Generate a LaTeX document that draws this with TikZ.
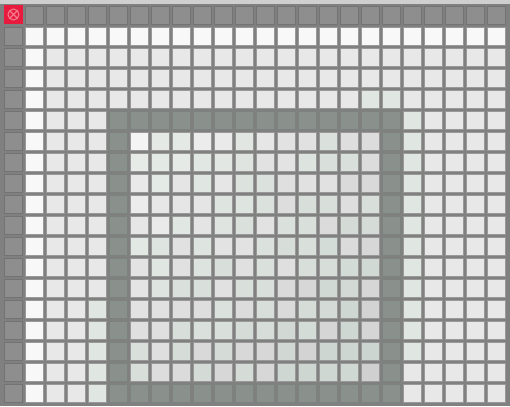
\documentclass[tikz,border=0pt]{standalone}
\usepackage{xcolor}
\definecolor{topband}{HTML}{CFCFCF}
\definecolor{gridline}{HTML}{808080}
\definecolor{cellrim}{HTML}{999999}
\definecolor{darkcell}{HTML}{8E8E8E}
\definecolor{framecell}{HTML}{8A908C}
\definecolor{whitecell}{HTML}{F8F8F8}
\definecolor{lightcell}{HTML}{E8E8E8}
\definecolor{tintcell}{HTML}{E0E6E2}
\definecolor{innerHi}{HTML}{EDEDED}
\definecolor{innerLo}{HTML}{D0D0D0}
\definecolor{greenHi}{HTML}{E6EBE7}
\definecolor{greenLo}{HTML}{CDD5D0}
\definecolor{markred}{HTML}{E81A3E}
\definecolor{markpink}{HTML}{F27A8C}
\tikzset{
  tilebox/.style={draw=cellrim, line width=0.7pt},
  darkbox/.style={tilebox, fill=darkcell, draw=gridline!90!black},
  framebox/.style={tilebox, fill=framecell, draw=framecell!90!black},
  markline/.style={draw=markpink, line width=1.1pt}
}
% one grid cell: column #2, row #3
\newcommand{\tile}[3][]{%
  \path[tilebox,#1] (3+21*#2+1.4, 5+21*#3+1.4) rectangle +(18.2,18.2);}
\begin{document}
\begin{tikzpicture}[x=1pt,y=-1pt]
  \useasboundingbox (0,0) rectangle (510,406);
  \fill[topband] (0,0) rectangle (510,4);
  \fill[gridline] (0,4) rectangle (510,406);

  % plain cells
  \foreach \c in {1,...,23}{\foreach \r in {2,...,18}{\tile[fill=lightcell]{\c}{\r}}}
  \foreach \c in {1,...,23}{\tile[fill=whitecell]{\c}{1}}
  \foreach \r in {2,...,18}{\tile[fill=whitecell]{1}{\r}}

  % header row and column
  \foreach \c in {1,...,23}{\tile[darkbox]{\c}{0}}
  \foreach \r in {1,...,18}{\tile[darkbox]{0}{\r}}

  % tinted cells round the frame
  \foreach \r in {5,...,16}{\tile[fill=tintcell]{19}{\r}}
  \foreach \c in {17,18}{\tile[fill=tintcell]{\c}{4}}
  \foreach \r in {14,...,18}{\tile[fill=tintcell]{4}{\r}}

  % inner frame
  \foreach \c in {5,...,18}{\tile[framebox]{\c}{5}\tile[framebox]{\c}{18}}
  \foreach \r in {6,...,17}{\tile[framebox]{5}{\r}\tile[framebox]{18}{\r}}

  % shaded interior
  \pgfmathsetseed{17}
  \foreach \c in {6,...,17}{\foreach \r in {6,...,17}{
    \pgfmathtruncatemacro{\p}{max(0,min(100,(\c+\r-12)/22*100+rand*10))}
    \pgfmathtruncatemacro{\g}{rnd>0.45}
    \ifnum\g=1 \colorlet{shadecell}{greenLo!\p!greenHi}%
    \else \colorlet{shadecell}{innerLo!\p!innerHi}\fi
    \tile[fill=shadecell]{\c}{\r}
  }}
  \tile[fill=innerHi!60!white]{6}{6}

  % corner marker
  \node[fill=markred, minimum size=19pt, inner sep=0pt] (corner) at (13.5,14.5) {};
  \draw[markline] (corner.center) circle (5.5pt);
  \draw[markline] ([shift={(-4pt,-4pt)}]corner.center) -- ([shift={(4pt,4pt)}]corner.center);
  \draw[markline] ([shift={(-4pt,4pt)}]corner.center) -- ([shift={(4pt,-4pt)}]corner.center);
\end{tikzpicture}
\end{document}
